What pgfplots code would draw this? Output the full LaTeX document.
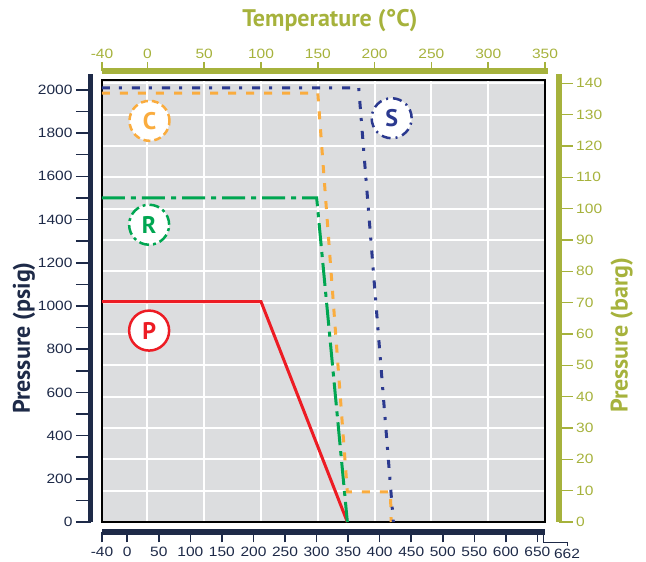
\documentclass[border=0pt]{standalone}
\usepackage{fontspec}
\setmainfont{Liberation Sans}
\newfontfamily\tickfont{Liberation Sans}[FakeStretch=1.15]
\newfontfamily\titlefont{PT Sans}
\usepackage{pgfplots}
\pgfplotsset{compat=1.18}
\definecolor{navy}{RGB}{30,42,72}
\definecolor{olive}{RGB}{166,178,60}
\definecolor{plotgray}{RGB}{220,221,223}
\definecolor{cRed}{RGB}{237,28,36}
\definecolor{cGreen}{RGB}{0,166,81}
\definecolor{cOrange}{RGB}{250,172,62}
\definecolor{cBlue}{RGB}{43,57,143}
\begin{document}
\begin{tikzpicture}
\useasboundingbox (-102pt,-40pt) rectangle (544pt,522pt);
\pgfplotsset{common/.style={width=443pt,height=442pt,scale only axis,enlargelimits=false,
  tick label style={font=\tickfont\fontsize{13.5}{13.5}\selectfont}}}
\tikzset{lbl/.style={circle,fill=white,minimum size=40pt,inner sep=0pt,line width=2.5pt,
  font=\titlefont\bfseries\fontsize{24}{24}\selectfont}}

% left psig axis
\begin{axis}[common, at={(-11pt,0pt)}, xmin=0,xmax=1,ymin=0,ymax=2046,
  hide x axis, axis y line=left,
  y axis line style={navy,line width=5pt,-,shorten >=-6pt},
  ytick={0,200,400,600,800,1000,1200,1400,1600,1800,2000},
  yticklabels={0,200,400,600,800,1000,1200,1400,1600,1800,2000},
  minor ytick={100,300,500,700,900,1100,1300,1500,1700,1900},
  tick align=outside, major tick length=15pt, minor tick length=15pt,
  tick style={navy,line width=1.5pt}, minor tick style={navy,line width=1.5pt},
  yticklabel style={text=navy}]
\end{axis}

% right barg axis
\begin{axis}[common, at={(13.7pt,0pt)}, xmin=0,xmax=1,ymin=0,ymax=141.07,
  hide x axis, axis y line=right,
  y axis line style={olive,line width=6pt,-,shorten >=-6pt},
  ytick={0,10,20,30,40,50,60,70,80,90,100,110,120,130,140},
  yticklabels={0,10,20,30,40,50,60,70,80,90,100,110,120,130,140},
  tick align=outside, major tick length=14pt,
  tick style={olive,line width=1.5pt},
  yticklabel style={text=olive}]
\end{axis}

% top Celsius axis
\begin{axis}[common, at={(0pt,9pt)}, xmin=-40,xmax=350,ymin=0,ymax=1,
  hide y axis, axis x line=top,
  x axis line style={olive,line width=6pt,-,shorten >=-3pt},
  xtick={-40,0,50,100,150,200,250,300,350},
  xticklabels={-40,0,50,100,150,200,250,300,350},
  tick align=outside, major tick length=9pt,
  tick style={olive,line width=1.5pt},
  xticklabel style={text=olive}]
\end{axis}

% bottom Fahrenheit axis
\begin{axis}[common, at={(0pt,-10.5pt)}, xmin=-40,xmax=662,ymin=0,ymax=1,
  hide y axis, axis x line=bottom,
  x axis line style={navy,line width=6pt,-},
  xtick={-40,0,50,100,150,200,250,300,350,400,450,500,550,600,650},
  xticklabels={-40,0,50,100,150,200,250,300,350,400,450,500,550,600,650},
  tick align=outside, major tick length=10pt,
  tick style={navy,line width=1.5pt},
  xticklabel style={text=navy,yshift=-1pt}]
\end{axis}

% main data axis (Celsius vs psig)
\begin{axis}[common, xmin=-40,xmax=350,ymin=0,ymax=2046,
  axis background/.style={fill=plotgray},
  xtick={0,50,100,150,200,250,300},
  ytick={145.04,290.08,435.11,580.15,725.19,870.23,1015.27,1160.30,1305.34,1450.38,1595.42,1740.46,1885.49,2030.53},
  xticklabels={}, yticklabels={},
  major tick length=0pt, grid=major, grid style={white,line width=2pt},
  axis line style={black,line width=2.2pt}, clip=false]
\addplot[cRed, line width=3pt] coordinates {(-40,1020) (100,1020) (176,0)};
\addplot[cGreen, line width=3pt, dash pattern=on 23pt off 6pt on 5pt off 6pt] coordinates {(-40,1500) (149,1500) (176,0)};
\addplot[cOrange, line width=3pt, dash pattern=on 8pt off 10pt] coordinates {(-40,1985) (150,1985) (176,140) (214,140) (214.5,0)};
\addplot[cBlue, line width=3pt, dash pattern=on 8pt off 9pt on 3pt off 10pt] coordinates {(-40,2010) (186,2010) (216.5,0)};
\node[lbl, draw=cOrange, dash pattern=on 7pt off 4pt, text=cOrange] at (axis cs:1.8,1857) {C};
\node[lbl, draw=cGreen, dash pattern=on 10pt off 4pt on 3pt off 4pt, text=cGreen] at (axis cs:1.5,1376) {R};
\node[lbl, draw=cRed, text=cRed] at (axis cs:1.5,886) {P};
\node[lbl, draw=cBlue, dash pattern=on 9pt off 5pt on 2pt off 5pt, text=cBlue] at (axis cs:215,1869) {S};
\end{axis}

% leader to 662
\draw[navy, line width=1pt] (441pt,-13.5pt) -- (441pt,-20.5pt) -- (465pt,-20.5pt) -- (465pt,-24pt);
\node[text=navy, font=\tickfont\fontsize{13.5}{13.5}\selectfont] at (465pt,-32pt) {662};

% titles
\node[text=olive, font=\titlefont\bfseries\fontsize{24}{24}\selectfont] at (228pt,501.7pt) {Temperature (°C)};
\node[text=navy, rotate=90, font=\titlefont\bfseries\fontsize{24}{24}\selectfont] at (-78pt,184pt) {Pressure (psig)};
\node[text=olive, rotate=90, font=\titlefont\bfseries\fontsize{24}{24}\selectfont] at (519.7pt,186.7pt) {Pressure (barg)};
\end{tikzpicture}
\end{document}
